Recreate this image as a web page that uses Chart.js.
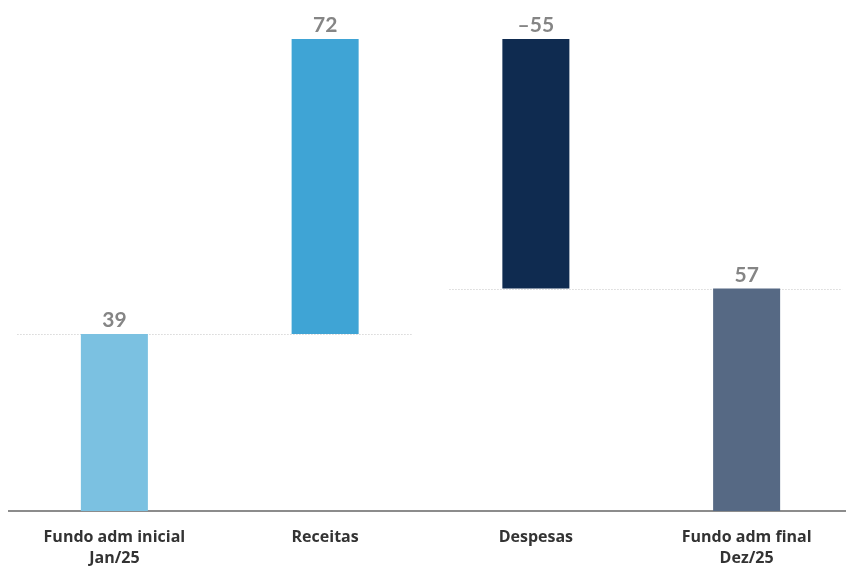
<!DOCTYPE html>
<html>
<head>
<meta charset="utf-8">
<script src="https://cdn.jsdelivr.net/npm/chart.js@4.4.1/dist/chart.umd.min.js"></script>
<style>
  html, body { margin: 0; padding: 0; overflow: hidden; background: #fff; }
  #wrap { width: 852px; height: 567px; position: relative; }
</style>
</head>
<body>
<div id="wrap"><canvas id="fund-chart"></canvas></div>
<script>
// categories and values
const categories = [["Fundo adm inicial", "Jan/25"], "Receitas", "Despesas", ["Fundo adm final", "Dez/25"]];
const barStart = [0, 39, 104, 0];
const barEnd = [39, 104, 49, 49];
const valueLabels = ["39", "72", "–55", "57"];
const barColors = ["#7BC1E1", "#3FA4D5", "#0F2B50", "#566984"];

// value labels above each bar
const valueLabelPlugin = {
    id: "valueLabels",
    afterDatasetsDraw(chart) {
        const ctx = chart.ctx
        const meta = chart.getDatasetMeta(0)
        ctx.save()
        ctx.font = "bold 21px Lato"
        ctx.fillStyle = "#858585"
        ctx.textAlign = "center"
        ctx.textBaseline = "bottom"
        meta.data.forEach((bar, i) => {
            const top = Math.min(bar.y, bar.base)
            ctx.fillText(valueLabels[i], bar.x, top - 3)
        })
        ctx.restore()
    }
}

// dotted connector lines between bars
const connectorPlugin = {
    id: "connectors",
    beforeDatasetsDraw(chart) {
        const ctx = chart.ctx
        const x = chart.scales.x
        const y = chart.scales.y
        const w = x.getPixelForValue(1) - x.getPixelForValue(0)
        const lines = [
            { from: 0, to: 1, val: barEnd[0], l: 0.46, r: 0.41 },
            { from: 2, to: 3, val: barEnd[2], l: 0.41, r: 0.455 },
        ]
        ctx.save()
        ctx.strokeStyle = "#c4c4c4"
        ctx.lineWidth = 1
        ctx.setLineDash([1, 2])
        lines.forEach(c => {
            const py = Math.round(y.getPixelForValue(c.val)) + 0.5
            ctx.beginPath()
            ctx.moveTo(x.getPixelForValue(c.from) - c.l * w, py)
            ctx.lineTo(x.getPixelForValue(c.to) + c.r * w, py)
            ctx.stroke()
        })
        ctx.restore()
    }
}

let fundChart = new Chart(document.getElementById("fund-chart").getContext("2d"), {
    type: "bar",
    data: {
        labels: categories,
        datasets: [{
            data: barStart.map((s, i) => [s, barEnd[i]]),
            backgroundColor: barColors,
            borderWidth: 0,
            categoryPercentage: 1,
            barPercentage: 0.318,
        }],
    },
    options: {
        responsive: true,
        maintainAspectRatio: false,
        animation: false,
        layout: {
            padding: { top: 39, left: 9, right: 0, bottom: 0 },
        },
        plugins: {
            legend: { display: false },
            tooltip: { enabled: false },
        },
        scales: {
            x: {
                grid: { display: false, drawTicks: false },
                border: { display: true, color: "#8c8c8c", width: 2 },
                ticks: {
                    color: "#333333",
                    padding: 16,
                    maxRotation: 0,
                    autoSkip: false,
                    font: { family: "Open Sans", size: 16, weight: "bold", lineHeight: 1.3 },
                },
                afterFit: (s) => { s.height = 56 },
            },
            y: {
                display: false,
                min: 0,
                max: 104,
            },
        },
    },
    plugins: [connectorPlugin, valueLabelPlugin],
});
</script>
</body>
</html>
